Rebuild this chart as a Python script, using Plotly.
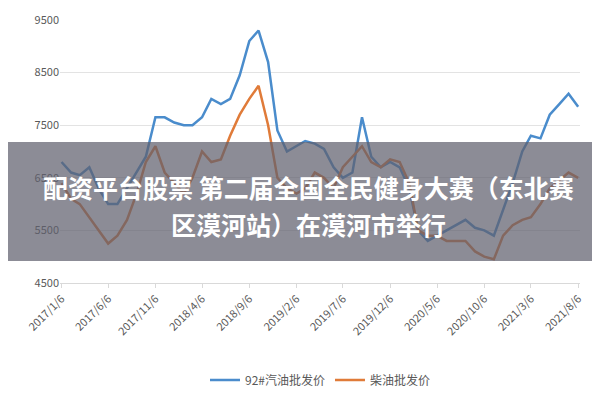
import plotly.graph_objects as go
import pandas as pd

months = pd.date_range("2017-01-01", "2021-08-01", freq="MS") + pd.Timedelta(days=5)
dates = [d.strftime("%Y-%m-%d") for d in months]
gasoline = [6800,6600,6550,6700,6300,6000,6000,6300,6600,6900,7650,7650,7550,7500,7500,7650,8000,7900,8000,8450,9100,9300,8700,7400,
            7000,7100,7200,7150,7050,6700,6500,6600,7650,6900,6700,6800,6700,6300,5500,5300,5400,5500,5600,5700,5550,5500,5400,5900,
            6400,7000,7300,7250,7700,7900,8100,7850]
diesel = [6400,6100,6000,5750,5500,5250,5400,5700,6200,6800,7100,6600,6400,6200,6500,7000,6800,6850,7300,7700,8000,8250,7500,6500,
          6300,6200,6300,6600,6500,6300,6700,6900,7100,6800,6700,6850,6800,6400,5500,5400,5400,5300,5300,5300,5100,5000,4950,5400,
          5600,5700,5750,6000,6300,6450,6600,6500]
tick_dates = ["2017-01-06","2017-06-06","2017-11-06","2018-04-06","2018-09-06","2019-02-06","2019-07-06","2019-12-06",
              "2020-05-06","2020-10-06","2021-03-06","2021-08-06"]
tick_labels = ["2017/1/6","2017/6/6","2017/11/6","2018/4/6","2018/9/6","2019/2/6","2019/7/6","2019/12/6",
               "2020/5/6","2020/10/6","2021/3/6","2021/8/6"]
y_ticks = [4500,5500,6500,7500,8500,9500]
title_lines = ["配资平台股票 第二届全国全民健身大赛（东北赛", "区漠河站）在漠河市举行"]

T, B = 12, 125
H = 400 - T - B
def py(pix):
    return (400 - B - pix) / H

fig = go.Figure()
fig.add_trace(go.Scatter(x=dates, y=gasoline, mode="lines", name="92#汽油批发价", line=dict(color="#4a8ccc", width=2.5)))
fig.add_trace(go.Scatter(x=dates, y=diesel, mode="lines", name="柴油批发价", line=dict(color="#e07b39", width=2.5)))
fig.update_layout(
    width=600, height=400, margin=dict(l=52, r=28, t=T, b=B),
    paper_bgcolor="white", plot_bgcolor="white",
    font=dict(family="Noto Sans CJK SC", size=11, color="#595959"),
    xaxis=dict(tickvals=tick_dates, ticktext=tick_labels, tickangle=-45, range=["2017-01-01","2021-08-12"], automargin=False,
               showgrid=False, showline=True, linecolor="#d9d9d9", ticks="outside", tickcolor="#d9d9d9", ticklen=4),
    yaxis=dict(tickvals=y_ticks, range=[4500,9500], gridcolor="#e3e3e3", zeroline=False, automargin=False),
    legend=dict(orientation="h", x=0.5, xanchor="center", y=py(372), yanchor="middle", font=dict(size=12)),
    shapes=[dict(type="rect", xref="paper", yref="paper", x0=-0.2, x1=1.2, y0=py(253), y1=py(134),
                 fillcolor="rgba(95,95,110,0.72)", line=dict(width=0), layer="above")],
    annotations=[dict(text="<b>%s</b>" % t, xref="paper", yref="paper", x=(300-52)/520, y=py(yc),
                      showarrow=False, yanchor="middle",
                      font=dict(size=25, color="white", family="Noto Sans CJK SC"))
                 for t, yc in zip(title_lines, [179, 216])],
)
fig.write_html("out.html")
